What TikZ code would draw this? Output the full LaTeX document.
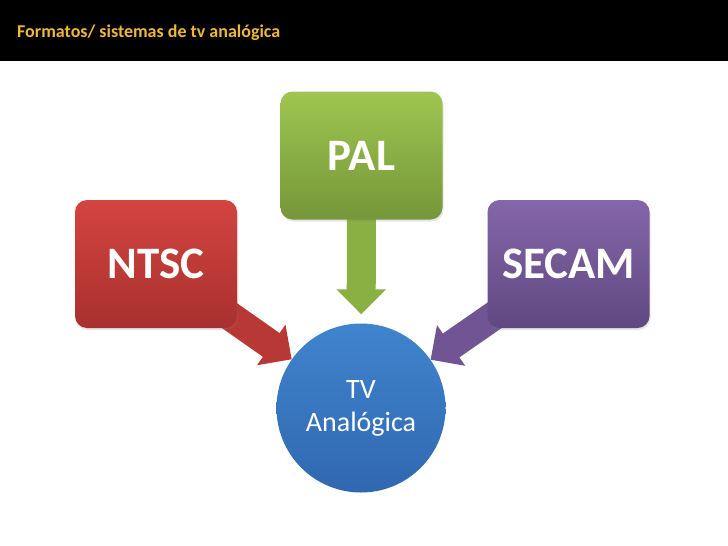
\documentclass[tikz,border=0pt]{standalone}
\usepackage{fontspec}
\setmainfont{Carlito}
\usetikzlibrary{arrows.meta,shadows}
\pgfdeclarelayer{bg}
\pgfdeclarelayer{paper}
\pgfsetlayers{paper,bg,main}
\definecolor{titlecol}{RGB}{240,184,56}
\definecolor{redtop}{RGB}{212,68,64}
\definecolor{redbot}{RGB}{168,48,46}
\definecolor{redarr}{RGB}{184,56,54}
\definecolor{greentop}{RGB}{158,198,80}
\definecolor{greenbot}{RGB}{118,150,58}
\definecolor{greenarr}{RGB}{138,176,68}
\definecolor{purtop}{RGB}{132,102,170}
\definecolor{purbot}{RGB}{96,72,128}
\definecolor{purarr}{RGB}{112,84,148}
\definecolor{bluetop}{RGB}{64,132,206}
\definecolor{bluebot}{RGB}{48,104,176}
\begin{document}
\begin{tikzpicture}[x=1pt,y=-1pt,
  sysbox/.style={rounded corners=12pt, minimum width=162pt, minimum height=128pt,
    inner sep=0pt, text=white, font=\bfseries\fontsize{45}{50}\selectfont,
    drop shadow={opacity=0.2, shadow xshift=1pt, shadow yshift=-2pt}},
  blockarrow/.style={line width=29pt, line cap=butt,
    -{Triangle[length=25pt,width=48pt]}},
  tvcircle/.style={circle, minimum size=169pt, inner sep=0pt, text=white,
    align=center, font=\fontsize{28}{33}\selectfont, top color=bluetop, bottom color=bluebot}]
\useasboundingbox (0,0) rectangle (728,546);
\begin{pgfonlayer}{paper}
\fill[white] (0,0) rectangle (728,546);
\fill[black] (0,0) rectangle (728,61);
\end{pgfonlayer}
\node[anchor=west, inner sep=0pt, text=titlecol, font=\bfseries\fontsize{18}{21}\selectfont] (title) at (17,33) {Formatos/ sistemas de tv analógica};

\node[sysbox, top color=redtop, bottom color=redbot] (ntsc) at (156,264) {NTSC};
\node[sysbox, top color=greentop, bottom color=greenbot] (pal) at (361.5,155.5) {PAL};
\node[sysbox, top color=purtop, bottom color=purbot] (secam) at (568.5,264) {SECAM};
\node[tvcircle] (tv) at (361,408) {TV\\Analógica};

\begin{pgfonlayer}{bg}
\draw[blockarrow, redarr] (ntsc.center) -- (tv);
\draw[blockarrow, greenarr, shorten >=9pt] (pal.center) -- (tv);
\draw[blockarrow, purarr] (secam.center) -- (tv);
\end{pgfonlayer}
\end{tikzpicture}
\end{document}
